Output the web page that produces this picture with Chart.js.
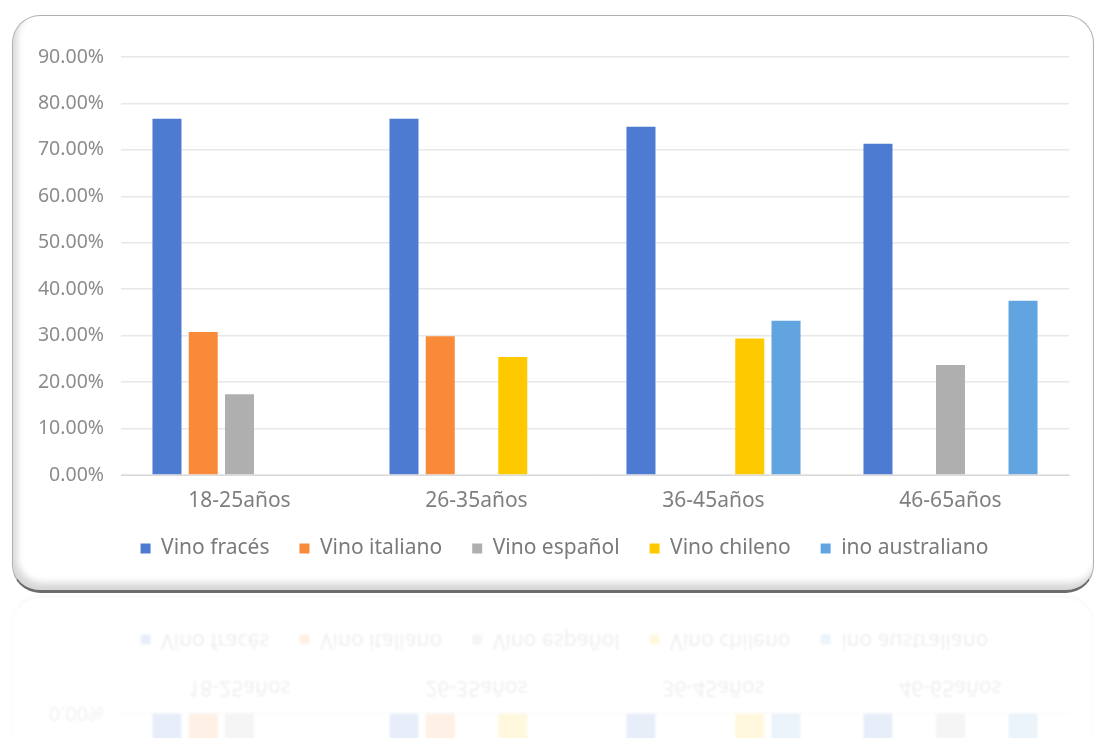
<!DOCTYPE html>
<html>
<head>
<meta charset="utf-8">
<script src="https://cdn.jsdelivr.net/npm/chart.js"></script>
<style>
	body { margin: 0; background: #fff; width: 1094px; height: 738px; overflow: hidden; position: relative; }
	.panel {
		position: absolute; left: 12px; top: 15px; width: 1082px; height: 578px;
		box-sizing: border-box; border-radius: 28px;
		border: 1px solid #b0b0b0; border-bottom: 3px solid #6c6c6c;
		box-shadow: inset 4px -7px 7px rgba(0,0,0,0.16);
		background: #fff;
	}
	.wrap { position: absolute; left: 0; top: 0; width: 1094px; height: 592px; }
	/* faded reflection under the panel */
	.mirror {
		position: absolute; left: 0; top: 596px; width: 1094px; height: 592px;
		transform: scaleY(-1); transform-origin: center;
		opacity: 0.13; filter: blur(1px);
	}
	.mirror .panel { box-shadow: none; border-color: #ccc; }
</style>
</head>
<body>
<div class="mirror">
	<div class="panel"></div>
	<div class="wrap"><canvas id="chart-mirror"></canvas></div>
</div>
<div class="panel"></div>
<div class="wrap"><canvas id="chart-main"></canvas></div>
<script>
const ageGroups = ['18-25años', '26-35años', '36-45años', '46-65años']
const seriesNames = ['Vino fracés', 'Vino italiano', 'Vino español', 'Vino chileno', 'ino australiano']
const vinoFrances = [76.7, 76.7, 75.0, 71.3]
const vinoItaliano = [30.8, 29.9, null, null]
const vinoEspanol = [17.4, null, null, 23.7]
const vinoChileno = [null, 25.4, 29.4, null]
const vinoAustraliano = [null, null, 33.2, 37.5]
const yTicks = [0, 10, 20, 30, 40, 50, 60, 70, 80, 90]

const colors = ['#4d7bd1', '#f98a3a', '#afafaf', '#ffc900', '#62a4e0']
const values = [vinoFrances, vinoItaliano, vinoEspanol, vinoChileno, vinoAustraliano]
const font = "'Noto Sans', sans-serif"

// nudge the centred legend a little to the right
const legendShift = {
	id: 'legendShift',
	afterUpdate(chart) {
		chart.legend.left += 15
		chart.legend.right += 15
	}
}

function makeChart(el) {
	return new Chart(el, {
		type: 'bar',
		data: {
			labels: ageGroups,
			datasets: seriesNames.map((name, i) => ({
				label: name,
				data: values[i],
				backgroundColor: colors[i],
				borderWidth: 0,
				categoryPercentage: 0.765,
				barPercentage: 0.8
			}))
		},
		options: {
			responsive: true,
			maintainAspectRatio: false,
			animation: false,
			events: [],
			layout: {
				padding: { left: 30, right: 25, top: 57, bottom: 23 }
			},
			scales: {
				x: {
					grid: { display: false, drawTicks: false },
					border: { color: '#d9d9d9', width: 1 },
					ticks: { color: '#7f7f7f', font: { family: font, size: 21 }, padding: 13 },
					afterFit: (s) => { s.height = 33 }
				},
				y: {
					min: 0,
					max: 90,
					afterBuildTicks: (s) => { s.ticks = yTicks.map(v => ({ value: v })) },
					grid: { color: '#e8e8e8', lineWidth: 1.5, drawTicks: false },
					border: { display: false },
					ticks: {
						color: '#8c8c8c',
						font: { family: font, size: 19.5 },
						padding: 17,
						callback: (v) => v.toFixed(2) + '%'
					},
					afterFit: (s) => { s.width = 91 }
				}
			},
			plugins: {
				legend: {
					position: 'bottom',
					labels: {
						color: '#7a7a7a',
						font: { family: font, size: 21 },
						boxWidth: 10,
						boxHeight: 10,
						padding: 30
					}
				},
				tooltip: { enabled: false }
			}
		},
		plugins: [legendShift]
	})
}

makeChart(document.getElementById('chart-main'))
makeChart(document.getElementById('chart-mirror'))
</script>
</body>
</html>
